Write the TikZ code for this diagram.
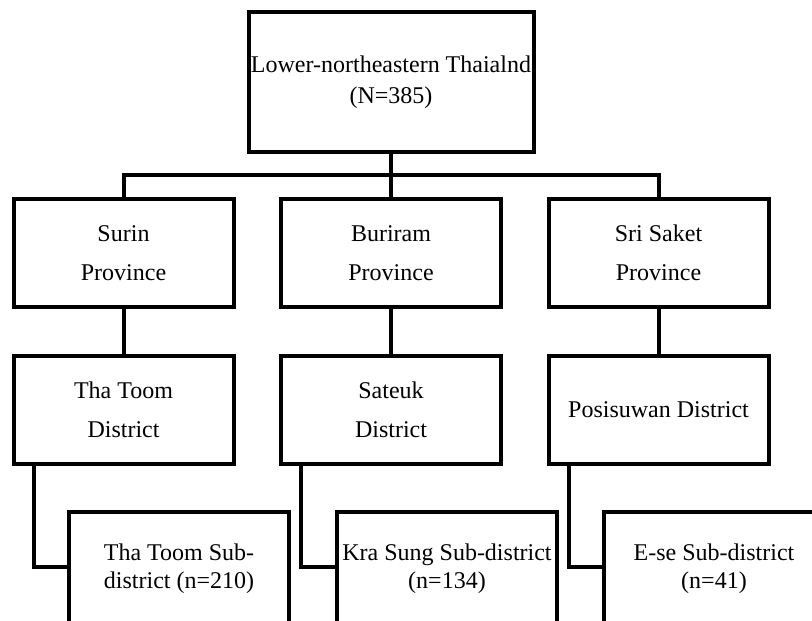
\documentclass[tikz,border=0pt]{standalone}
\usepackage{fontspec}
\setmainfont{Liberation Serif}
\usepackage{tikz}
\usetikzlibrary{calc}
\tikzstyle{box}=[draw, line width=4pt, minimum width=220pt, minimum height=108pt, inner sep=0pt, align=center, font=\fontsize{24}{39}\selectfont]
\tikzstyle{subbox}=[box, minimum height=114pt, font=\fontsize{24}{28}\selectfont]
\tikzstyle{link}=[line width=4pt]

\begin{document}
\begin{tikzpicture}[x=1pt,y=-1pt]

    \clip (0,0) rectangle (812,621);

    %top
    \node [box, minimum width=285pt, minimum height=140pt, font=\fontsize{24}{31}\selectfont] (region) at (391,82) {Lower-northeastern Thaialnd\\(N=385)};

    %provinces
    \node [box] (surin) at (123.5,253) {Surin\\Province};
    \node [box] (buriram) at (391,253) {Buriram\\Province};
    \node [box] (srisaket) at (658.5,253) {Sri Saket\\Province};

    %districts
    \node [box] (thatoom) at (123.5,410) {Tha Toom\\District};
    \node [box] (sateuk) at (391,410) {Sateuk\\District};
    \node [box] (posisuwan) at (658.5,410) {Posisuwan District};

    %sub-districts
    \node [subbox] (thatoomsub) at (179,569) {Tha Toom Sub-\\district (n=210)};
    \node [subbox] (krasung) at (447,569) {Kra Sung Sub-district\\(n=134)};
    \node [subbox] (ese) at (714,569) {E-se Sub-district\\(n=41)};

    %links
    \coordinate (bus) at (391,175);
    \draw [link] (region.south) -- (buriram.north);
    \draw [link] (surin.north) |- (bus) -| (srisaket.north);
    \draw [link] (surin.south) -- (thatoom.north);
    \draw [link] (buriram.south) -- (sateuk.north);
    \draw [link] (srisaket.south) -- (posisuwan.north);
    \draw [link] ($(thatoom.south west)+(22,0)$) |- ($(thatoomsub.west)+(0,-2)$);
    \draw [link] ($(sateuk.south west)+(22,0)$) |- ($(krasung.west)+(0,-2)$);
    \draw [link] ($(posisuwan.south west)+(22,0)$) |- ($(ese.west)+(0,-2)$);

\end{tikzpicture}
\end{document}
